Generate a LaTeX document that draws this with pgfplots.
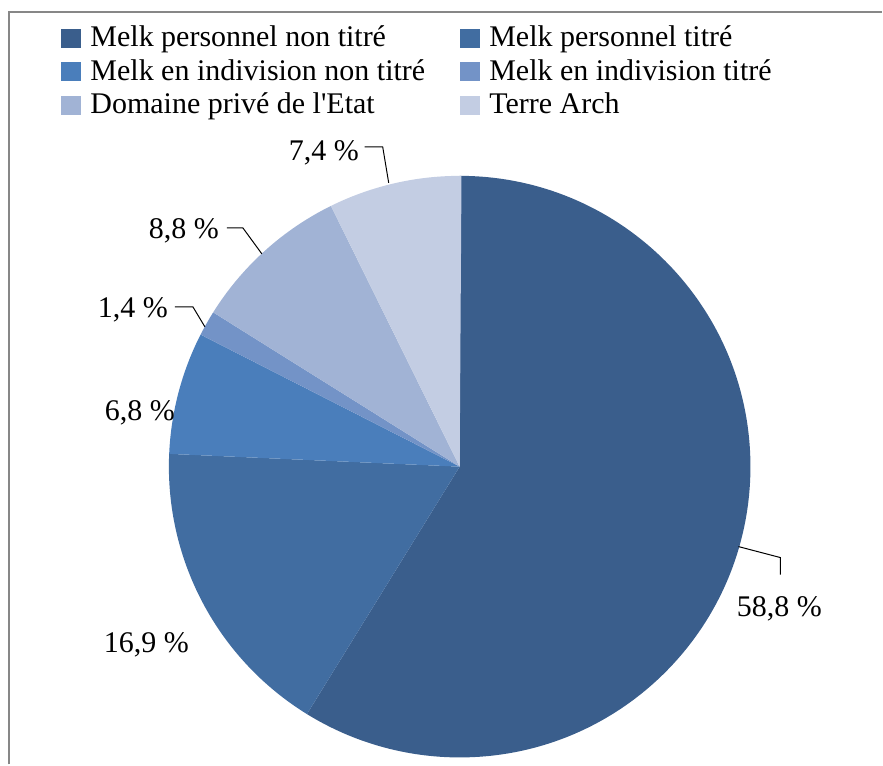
\documentclass[border=0pt]{standalone}
\usepackage{fontspec}
\setmainfont{Liberation Serif}
\usepackage{pgfplots}
\usepackage{pgfplotstable}
\pgfplotsset{compat=1.18}
\definecolor{c1}{HTML}{3A5E8C}
\definecolor{c2}{HTML}{416DA1}
\definecolor{c3}{HTML}{4A7EBB}
\definecolor{c4}{HTML}{7393C7}
\definecolor{c5}{HTML}{A1B3D5}
\definecolor{c6}{HTML}{C3CDE3}
\definecolor{framegray}{HTML}{878787}

\pgfplotstableread{
share
58.8
16.9
6.8
1.4
8.8
7.4
}\piedata
\pgfplotstablegetelem{0}{share}\of\piedata\let\sA\pgfplotsretval
\pgfplotstablegetelem{1}{share}\of\piedata\let\sB\pgfplotsretval
\pgfplotstablegetelem{2}{share}\of\piedata\let\sC\pgfplotsretval
\pgfplotstablegetelem{3}{share}\of\piedata\let\sD\pgfplotsretval
\pgfplotstablegetelem{4}{share}\of\piedata\let\sE\pgfplotsretval
\pgfplotstablegetelem{5}{share}\of\piedata\let\sF\pgfplotsretval
\pgfmathsetmacro\aA{90}
\pgfmathsetmacro\aB{\aA-3.6*\sA}
\pgfmathsetmacro\aC{\aB-3.6*\sB}
\pgfmathsetmacro\aD{\aC-3.6*\sC}
\pgfmathsetmacro\aE{\aD-3.6*\sD}
\pgfmathsetmacro\aF{\aE-3.6*\sE}
\pgfmathsetmacro\aG{\aF-3.6*\sF}

\newcommand\slice[3]{\fill[#3] (axis cs:460,298) -- (axis cs:{460+291*cos(#1)},{298+291*sin(#1)}) arc[start angle=#1, end angle=#2, radius=218.25pt] -- cycle;}
\newcommand\legsq[1]{\addlegendimage{legend image code/.code={\fill[#1] (0pt,-6.75pt) rectangle (14.25pt,6.75pt);}}}

\begin{document}
\begin{tikzpicture}
\begin{axis}[
  scale only axis,
  width=662.25pt, height=573.75pt,
  xmin=0, xmax=883, ymin=0, ymax=765,
  hide axis, clip=false,
  legend columns=2,
  legend cell align=left,
  legend style={
    at={(axis cs:61,743.7)}, anchor=north west,
    draw=none, fill=none, inner sep=0pt, outer sep=0pt,
    row sep=0pt,
    font=\fontsize{22.5}{27}\selectfont,
    nodes={inner sep=0pt, outer sep=0pt, text height=19.3pt, text depth=5.8pt},
    /tikz/every odd column/.append style={column sep=7.5pt},
    /tikz/every even column/.append style={column sep=26pt},
  },
]
\path (axis cs:0,0) rectangle (axis cs:883,765);
\draw[framegray, line width=1pt] (axis cs:9,0) -- (axis cs:9,753) -- (axis cs:883,753);

\slice{\aA}{\aB}{c1}
\slice{\aB}{\aC}{c2}
\slice{\aC}{\aD}{c3}
\slice{\aD}{\aE}{c4}
\slice{\aE}{\aF}{c5}
\slice{\aF}{\aG}{c6}

\legsq{c1}\addlegendentry{Melk personnel non titré}
\legsq{c2}\addlegendentry{Melk personnel titré}
\legsq{c3}\addlegendentry{Melk en indivision non titré}
\legsq{c4}\addlegendentry{Melk en indivision titré}
\legsq{c5}\addlegendentry{Domaine privé de l\textquotesingle Etat}
\legsq{c6}\addlegendentry{Terre Arch}

\begin{scope}[every node/.style={font=\fontsize{22.5}{27}\selectfont, anchor=base, inner sep=0pt}]
\node at (axis cs:780,148) {58,8 \%};
\node at (axis cs:146.5,112) {16,9 \%};
\node at (axis cs:140,344) {6,8 \%};
\node at (axis cs:133,447) {1,4 \%};
\node at (axis cs:184,526) {8,8 \%};
\node at (axis cs:324,604) {7,4 \%};
\end{scope}
\begin{scope}[line width=0.75pt, black]
\draw (axis cs:739,218) -- (axis cs:781,207) -- (axis cs:781,190);
\draw (axis cs:365,618) -- (axis cs:383,618) -- (axis cs:389,582);
\draw (axis cs:227,537) -- (axis cs:243,537) -- (axis cs:262,511);
\draw (axis cs:175,458) -- (axis cs:193,458) -- (axis cs:205,438);
\end{scope}
\end{axis}
\end{tikzpicture}
\end{document}
